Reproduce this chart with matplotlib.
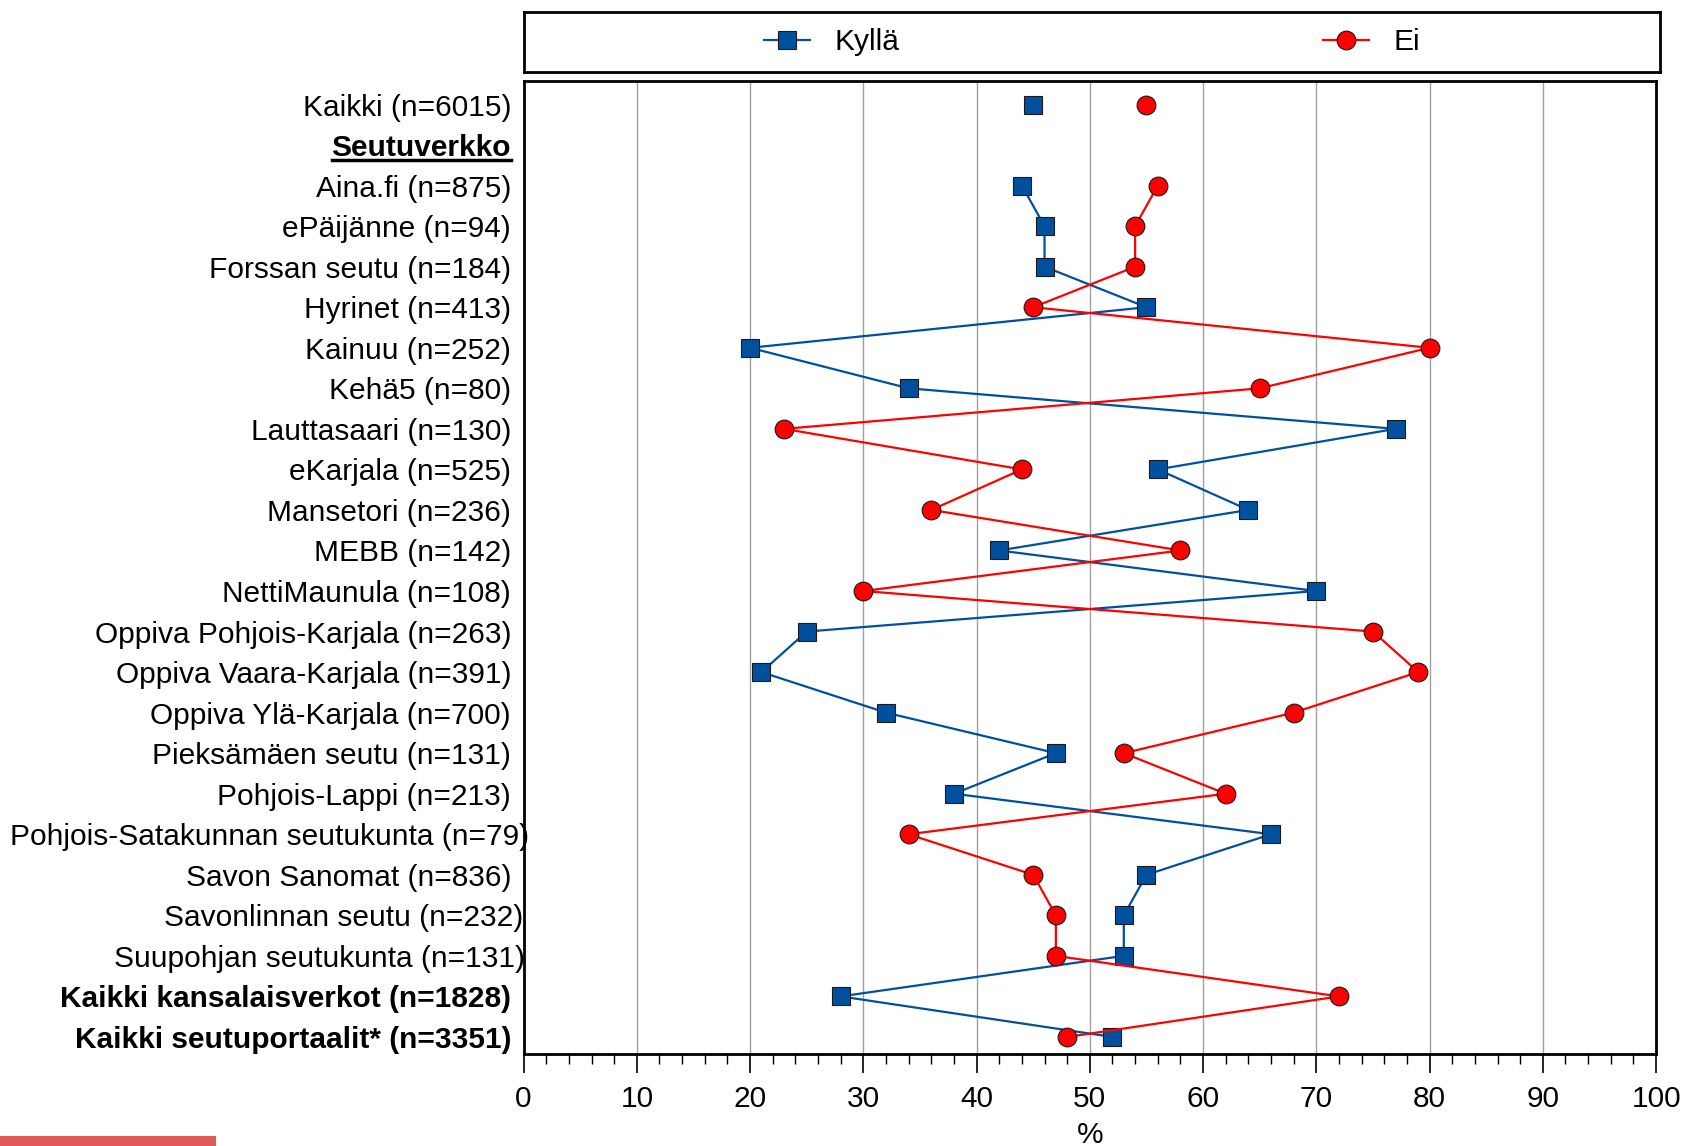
import matplotlib.pyplot as plt
import matplotlib.lines as mlines
import matplotlib.patches as mpatches
import matplotlib.transforms as mtransforms
import numpy as np

plt.rcParams['font.family'] = ['Liberation Sans', 'DejaVu Sans']

categories = [
    "Kaikki (n=6015)", "Seutuverkko", "Aina.fi (n=875)", "ePäijänne (n=94)",
    "Forssan seutu (n=184)", "Hyrinet (n=413)", "Kainuu (n=252)", "Kehä5 (n=80)",
    "Lauttasaari (n=130)", "eKarjala (n=525)", "Mansetori (n=236)", "MEBB (n=142)",
    "NettiMaunula (n=108)", "Oppiva Pohjois-Karjala (n=263)",
    "Oppiva Vaara-Karjala (n=391)", "Oppiva Ylä-Karjala (n=700)",
    "Pieksämäen seutu (n=131)", "Pohjois-Lappi (n=213)",
    "Pohjois-Satakunnan seutukunta (n=79)", "Savon Sanomat (n=836)",
    "Savonlinnan seutu (n=232)", "Suupohjan seutukunta (n=131)",
    "Kaikki kansalaisverkot (n=1828)", "Kaikki seutuportaalit* (n=3351)",
]
kylla = [45, np.nan, 44, 46, 46, 55, 20, 34, 77, 56, 64, 42, 70, 25, 21, 32,
         47, 38, 66, 55, 53, 53, 28, 52]
ei = [55, np.nan, 56, 54, 54, 45, 80, 65, 23, 44, 36, 58, 30, 75, 79, 68,
      53, 62, 34, 45, 47, 47, 72, 48]
bold_labels = ["Seutuverkko", "Kaikki kansalaisverkot (n=1828)",
               "Kaikki seutuportaalit* (n=3351)"]
# labels that sit a little further right in the original
label_shift = {"Pohjois-Satakunnan seutukunta (n=79)": 18,
               "Savonlinnan seutu (n=232)": 12,
               "Suupohjan seutukunta (n=131)": 14}

blue = '#00509e'
red = '#ff0000'
fs = 21.5

fig = plt.figure(figsize=(16.89, 11.46), dpi=100)
ax = fig.add_axes([0.310, 0.0803, 0.6705, 0.849])

y = np.arange(len(categories))
ax.plot(kylla, y, color=blue, lw=1.6, marker='s', ms=13, mfc=blue,
        mec='#1a1a1a', mew=0.8, label='Kyllä', zorder=3)
ax.plot(ei, y, color=red, lw=1.6, marker='o', ms=13.5, mfc=red,
        mec='#1a1a1a', mew=0.8, label='Ei', zorder=3)

ax.set_xlim(0, 100)
ax.set_ylim(len(categories) - 0.58, -0.58)
ax.set_xticks(np.arange(0, 101, 10))
ax.set_xticks(np.arange(0, 101, 2), minor=True)
ax.set_yticks(y)
ax.set_yticklabels(categories)
ax.tick_params(axis='y', length=0, pad=9, labelsize=fs)
ax.tick_params(axis='x', which='major', length=14, width=1.2, labelsize=fs, pad=8)
ax.tick_params(axis='x', which='minor', length=7, width=1.0)
for lbl in ax.get_yticklabels():
    txt = lbl.get_text()
    if txt in bold_labels:
        lbl.set_fontweight('bold')
    if txt in label_shift:
        lbl.set_transform(lbl.get_transform() + mtransforms.ScaledTranslation(
            label_shift[txt] / 100, 0, fig.dpi_scale_trans))
ax.xaxis.grid(True, color='#a0a0a0', lw=1.0)
ax.set_axisbelow(True)
for s in ax.spines.values():
    s.set_color('black')
    s.set_linewidth(2)
ax.set_xlabel('%', fontsize=fs, labelpad=6)

# legend in its own framed box above the plot
lax = fig.add_axes([0.310, 0.937, 0.673, 0.0525])
lax.set_xticks([])
lax.set_yticks([])
for s in lax.spines.values():
    s.set_linewidth(2)
h, l = ax.get_legend_handles_labels()
lax.legend(h, l, loc='center', ncol=2, frameon=False, fontsize=fs,
           columnspacing=14.2, handlelength=1.55, handletextpad=0.8)

# underline the section header
fig.canvas.draw()
r = fig.canvas.get_renderer()
for lbl in ax.get_yticklabels():
    if lbl.get_text() == "Seutuverkko":
        bb = lbl.get_window_extent(r).transformed(fig.transFigure.inverted())
        fig.add_artist(mlines.Line2D([bb.x0, bb.x1], [bb.y0 + 0.002, bb.y0 + 0.002],
                                     color='black', lw=2.5, transform=fig.transFigure))

# red strip in bottom-left corner
fig.add_artist(mpatches.Rectangle((0, 0), 0.128, 0.009, transform=fig.transFigure,
                                  color='#e05a5a', lw=0))

fig.savefig('out.png', dpi=100)
